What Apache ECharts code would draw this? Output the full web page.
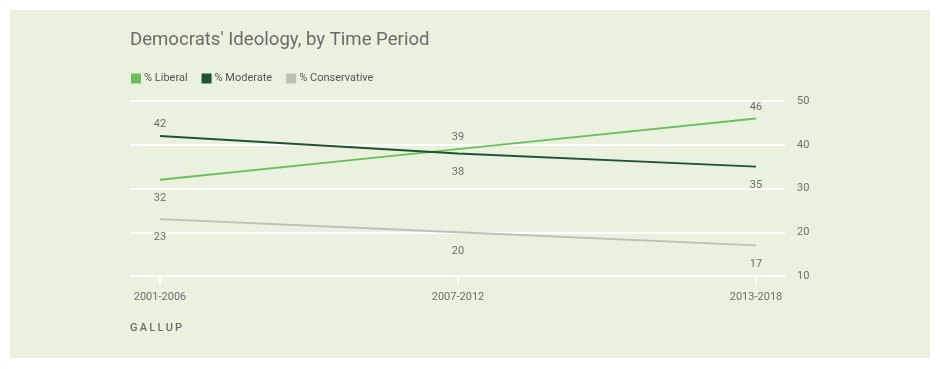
<!DOCTYPE html>
<html>
<head>
<meta charset="utf-8">
<script src="https://cdn.jsdelivr.net/npm/echarts@6/dist/echarts.min.js"></script>
<style>
  html, body { margin: 0; padding: 0; background: #fff; }
  #chart { width: 940px; height: 369px; }
</style>
</head>
<body>
<div id="chart"></div>
<script>
// data
const periods = ['2001-2006', '2007-2012', '2013-2018'];
const liberal = [32, 39, 46];
const moderate = [42, 38, 35];
const conservative = [23, 20, 17];
const yTicks = [10, 20, 30, 40, 50];

// label placement per point (above / below the line)
const liberalPos = ['bottom', 'top', 'top'];
const moderatePos = ['top', 'bottom', 'bottom'];
const conservativePos = ['bottom', 'bottom', 'bottom'];

const chart = echarts.init(document.getElementById('chart'));

const TXT = '#6d6d6d';

function withLabels(values, positions) {
  return values.map((v, i) => ({
    value: v,
    label: { position: positions[i], distance: positions[i] === 'top' ? 6 : 13 }
  }));
}

function lineSeries(name, values, positions, color) {
  return {
    name: name,
    type: 'line',
    xAxisIndex: 1,
    yAxisIndex: 1,
    data: withLabels(values, positions),
    symbol: 'circle',
    symbolSize: 0,
    showSymbol: true,
    lineStyle: { color: color, width: 2 },
    itemStyle: { color: color },
    label: {
      show: true,
      color: TXT,
      fontSize: 11,
      fontFamily: 'Roboto'
    },
    emphasis: { disabled: true },
    animation: false
  };
}

const option = {
  backgroundColor: '#fff',
  graphic: [
    {
      type: 'rect',
      shape: { x: 10, y: 10, width: 920, height: 348 },
      style: { fill: '#EAF2DF' },
      z: -10
    },
    {
      type: 'text',
      left: 130,
      top: 323,
      style: {
        text: 'G\u2009A\u2009L\u2009L\u2009U\u2009P',
        fill: '#6a6a6a',
        font: '500 11px Roboto'
      }
    }
  ],
  title: {
    text: "Democrats' Ideology, by Time Period",
    left: 125,
    top: 26,
    textStyle: {
      color: '#6b6b6b',
      fontSize: 18.6,
      fontWeight: 'normal',
      fontFamily: 'Roboto'
    }
  },
  legend: {
    left: 126,
    top: 68,
    itemWidth: 10,
    itemHeight: 10,
    itemGap: 14,
    icon: 'rect',
    textStyle: { color: '#555', fontSize: 11, fontFamily: 'Roboto', padding: [0, 0, 0, -2] },
    data: ['% Liberal', '% Moderate', '% Conservative']
  },
  grid: [
    { left: 130, right: 155, top: 101, bottom: 93 },
    { left: 160, right: 184, top: 101, bottom: 93 }
  ],
  xAxis: [
    {
      gridIndex: 0,
      type: 'value',
      show: false
    },
    {
      gridIndex: 1,
      type: 'category',
      data: periods,
      boundaryGap: false,
      axisLine: { show: false },
      axisTick: { show: true, length: 9, lineStyle: { color: '#fff', width: 2 } },
      axisLabel: { color: TXT, fontSize: 11, fontFamily: 'Roboto', margin: 16 },
      splitLine: { show: false }
    }
  ],
  yAxis: [
    {
      gridIndex: 0,
      type: 'value',
      position: 'right',
      min: yTicks[0],
      max: yTicks[yTicks.length - 1],
      interval: 10,
      axisLine: { show: false },
      axisTick: { show: false },
      axisLabel: { color: TXT, fontSize: 11, fontFamily: 'Roboto', margin: 12 },
      splitLine: { lineStyle: { color: '#fff', width: 2 } }
    },
    {
      gridIndex: 1,
      type: 'value',
      min: yTicks[0],
      max: yTicks[yTicks.length - 1],
      interval: 10,
      show: false
    }
  ],
  series: [
    lineSeries('% Liberal', liberal, liberalPos, '#6CC05B'),
    lineSeries('% Moderate', moderate, moderatePos, '#1F5430'),
    lineSeries('% Conservative', conservative, conservativePos, '#BDBFBA')
  ]
};

chart.setOption(option);
</script>
</body>
</html>
